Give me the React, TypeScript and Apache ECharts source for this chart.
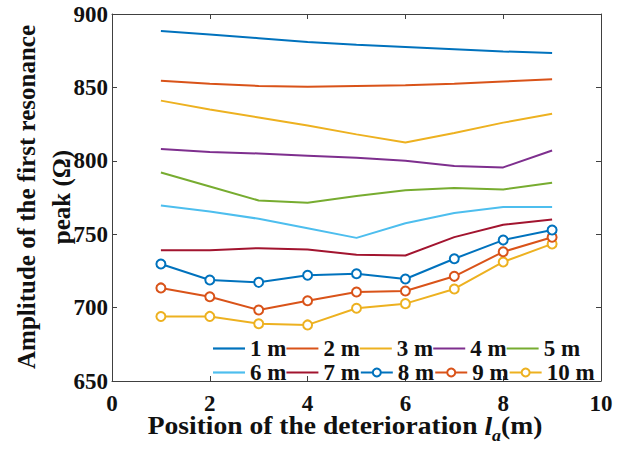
import React, { useEffect, useRef } from "react";
import * as echarts from "echarts";

const positions = [1, 2, 3, 4, 5, 6, 7, 8, 9];
const seriesNames = ["1 m", "2 m", "3 m", "4 m", "5 m", "6 m", "7 m", "8 m", "9 m", "10 m"];
const s1 = [888.5, 886, 883.5, 881, 879, 877.5, 876, 874.5, 873.5];
const s2 = [854.5, 852.5, 851, 850.5, 851, 851.5, 852.5, 854, 855.5];
const s3 = [841, 835, 829.5, 824, 818, 812.5, 819, 826, 832];
const s4 = [808, 806, 805, 803.5, 802, 800, 796.5, 795.5, 807];
const s5 = [792, 782.5, 773, 771.5, 776, 780, 781.5, 780.5, 785];
const s6 = [769.5, 765.5, 760.5, 754, 747.5, 757.5, 764.5, 768.5, 768.5];
const s7 = [739, 739, 740.5, 739.5, 736, 735.5, 748, 756.5, 760];
const s8 = [729.7, 718.8, 717.2, 722, 723.1, 719.5, 733.3, 746, 752.9];
const s9 = [713.4, 707.4, 698.4, 704.7, 710.6, 711.3, 721.3, 738, 747.9];
const s10 = [693.9, 694, 689, 688.2, 699.6, 702.7, 712.7, 731.1, 743.4];
const allValues = [s1, s2, s3, s4, s5, s6, s7, s8, s9, s10];
const colors = ["#0072BD", "#D95319", "#EDB120", "#7E2F8E", "#77AC30", "#4DBEEE", "#A2142F", "#0072BD", "#D95319", "#EDB120"];
const markerSeries = [false, false, false, false, false, false, false, true, true, true];

const FONT = "'Liberation Serif', 'Times New Roman', serif";
const LINE_ICON = "path://M0,0H32V2.2H0Z";

export default function App() {
  const ref = useRef<HTMLDivElement>(null);
  useEffect(() => {
    if (!ref.current) return;
    const chart = echarts.init(ref.current, undefined, { renderer: "svg" });
    const axisColor = "#404040";
    const labelStyle = { fontFamily: FONT, fontWeight: "bold" as const, fontSize: 23, color: "#111" };
    const legendText = { fontFamily: FONT, fontWeight: "bold" as const, fontSize: 23, color: "#111" };
    const series = allValues.map((vals, i) => ({
      name: seriesNames[i],
      type: "line",
      data: positions.map((p, j) => [p, vals[j]]),
      symbol: markerSeries[i] ? "emptyCircle" : "none",
      showSymbol: markerSeries[i],
      symbolSize: 9,
      color: colors[i],
      lineStyle: { width: 2, color: colors[i] },
      itemStyle: { color: colors[i], borderWidth: 2 },
      z: 10 - i,
    }));
    const legendItems = seriesNames.map((n, i) => (markerSeries[i] ? { name: n } : { name: n, icon: LINE_ICON }));
    chart.setOption({
      animation: false,
      grid: { left: 112, right: 35, top: 14, bottom: 73 },
      xAxis: [
        {
          type: "value", min: 0, max: 10, interval: 2,
          axisLine: { show: true, lineStyle: { color: axisColor, width: 1 } },
          axisTick: { show: true, inside: true, length: 5, lineStyle: { color: axisColor } },
          axisLabel: { ...labelStyle, margin: 11 },
          splitLine: { show: false },
        },
        {
          type: "value", min: 0, max: 10, interval: 2, position: "top",
          axisLine: { show: true, onZero: false, lineStyle: { color: axisColor, width: 1 } },
          axisTick: { show: true, inside: true, length: 5, lineStyle: { color: axisColor } },
          axisLabel: { show: false },
          splitLine: { show: false },
        },
      ],
      yAxis: [
        {
          type: "value", min: 650, max: 900, interval: 50,
          axisLine: { show: true, lineStyle: { color: axisColor, width: 1 } },
          axisTick: { show: true, inside: true, length: 5, lineStyle: { color: axisColor } },
          axisLabel: { ...labelStyle, margin: 4 },
          splitLine: { show: false },
        },
        {
          type: "value", min: 650, max: 900, interval: 50, position: "right",
          axisLine: { show: true, onZero: false, lineStyle: { color: axisColor, width: 1 } },
          axisTick: { show: true, inside: true, length: 5, lineStyle: { color: axisColor } },
          axisLabel: { show: false },
          splitLine: { show: false },
        },
      ],
      legend: [
        {
          data: legendItems.slice(0, 5), left: 208, top: 332, orient: "horizontal",
          itemWidth: 32, itemHeight: 10, itemGap: 0, textStyle: legendText,
        },
        {
          data: legendItems.slice(5), left: 208, top: 356, orient: "horizontal",
          itemWidth: 32, itemHeight: 10, itemGap: 0, textStyle: legendText,
        },
      ],
      graphic: [
        {
          type: "text", x: 44, y: 197, rotation: Math.PI / 2,
          style: {
            text: "Amplitude of the first resonance\npeak (Ω)",
            fontFamily: FONT, fontWeight: "bold", fontSize: 25, lineHeight: 35,
            fill: "#111", align: "center", verticalAlign: "middle",
          },
        },
        {
          type: "text", x: 345, y: 425, scaleX: 1.06,
          style: {
            text: "Position of the deterioration {i|l}{sub|a}(m)",
            fontFamily: FONT, fontWeight: "bold", fontSize: 26, fill: "#111",
            align: "center", verticalAlign: "middle",
            rich: {
              i: { fontFamily: FONT, fontWeight: "bold", fontStyle: "italic", fontSize: 26, fill: "#111", lineHeight: 28, verticalAlign: "bottom" },
              sub: { fontFamily: FONT, fontWeight: "bold", fontStyle: "italic", fontSize: 17, fill: "#111", lineHeight: 17, verticalAlign: "bottom", padding: [0, 0, -5, 0] },
            },
          },
        },
      ],
      series,
    });
    return () => chart.dispose();
  }, []);
  return <div ref={ref} style={{ width: 636, height: 454, position: "absolute", left: 0, top: 0 }} />;
}
